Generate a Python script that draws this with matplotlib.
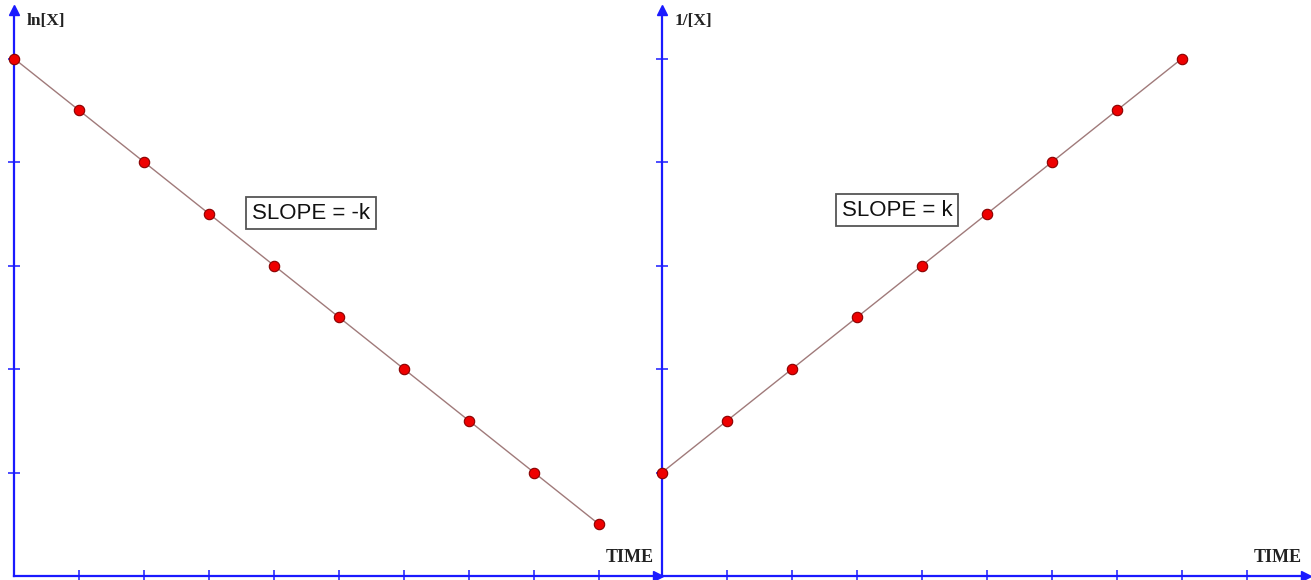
import matplotlib
matplotlib.use("Agg")
import matplotlib.pyplot as plt

# Data
time_left = [0, 1, 2, 3, 4, 5, 6, 7, 8, 9]
ln_x = [10, 9, 8, 7, 6, 5, 4, 3, 2, 1]
time_right = [0, 1, 2, 3, 4, 5, 6, 7, 8]
inv_x = [2, 3, 4, 5, 6, 7, 8, 9, 10]
x_ticks = [1, 2, 3, 4, 5, 6, 7, 8, 9]
y_ticks = [2, 4, 6, 8, 10]

W, H = 1311, 580
fig = plt.figure(figsize=(W / 100, H / 100), dpi=100)
fig.patch.set_facecolor("white")

BLUE = "#1a1aff"
LINE = "#a07a7a"

def make_panel(x0_px, xs, ys, ylabel, slope_txt, box_xy):
    x1_px = x0_px + 9.9 * 65
    y_axis_px = 576
    top_px = 10
    ax = fig.add_axes([x0_px / W, (H - y_axis_px) / H, (x1_px - x0_px) / W,
                       (y_axis_px - top_px) / H])
    ymax = (y_axis_px - top_px) / 51.75
    ax.set_xlim(0, 9.9)
    ax.set_ylim(0, ymax)
    ax.set_facecolor("none")
    for s in ["top", "right"]:
        ax.spines[s].set_visible(False)
    for s in ["left", "bottom"]:
        ax.spines[s].set_color(BLUE)
        ax.spines[s].set_linewidth(1.6)
    ax.set_xticks(x_ticks)
    ax.set_yticks(y_ticks)
    ax.set_xticklabels([])
    ax.set_yticklabels([])
    ax.tick_params(direction="inout", length=9, width=1.1, color=BLUE)
    # arrowheads
    ax.plot([0], [1], marker="^", color=BLUE, markersize=7, transform=ax.transAxes,
            clip_on=False)
    ax.plot([1], [0], marker=">", color=BLUE, markersize=7, transform=ax.transAxes,
            clip_on=False)
    ax.plot(xs, ys, color=LINE, linewidth=1.0, zorder=2, clip_on=False)
    ax.plot(xs, ys, linestyle="none", marker="o", markersize=7.5,
            markerfacecolor="#ee0000", markeredgecolor="#880000",
            markeredgewidth=0.8, zorder=3, clip_on=False)
    ax.text(0.2, ymax - 0.05, ylabel, fontsize=12.5,
            family="Liberation Serif", fontweight="bold", color="#222222",
            ha="left", va="top")
    ax.text(9.85, 0.2, "TIME", fontsize=13, family="Liberation Serif",
            fontweight="bold", color="#222222", ha="right", va="bottom")
    ax.text(box_xy[0], box_xy[1], slope_txt, fontsize=16, family="Liberation Sans",
            color="#111111", ha="center", va="center",
            bbox=dict(boxstyle="square,pad=0.25", facecolor="white",
                      edgecolor="#555555", linewidth=1.3))
    return ax

ax1 = make_panel(14, time_left, ln_x, "ln[X]", "SLOPE = -k", (4.57, 7.01))
ax2 = make_panel(662, time_right, inv_x, "1/[X]", "SLOPE = k", (3.62, 7.07))

fig.savefig("out.png", dpi=100, facecolor="white")
